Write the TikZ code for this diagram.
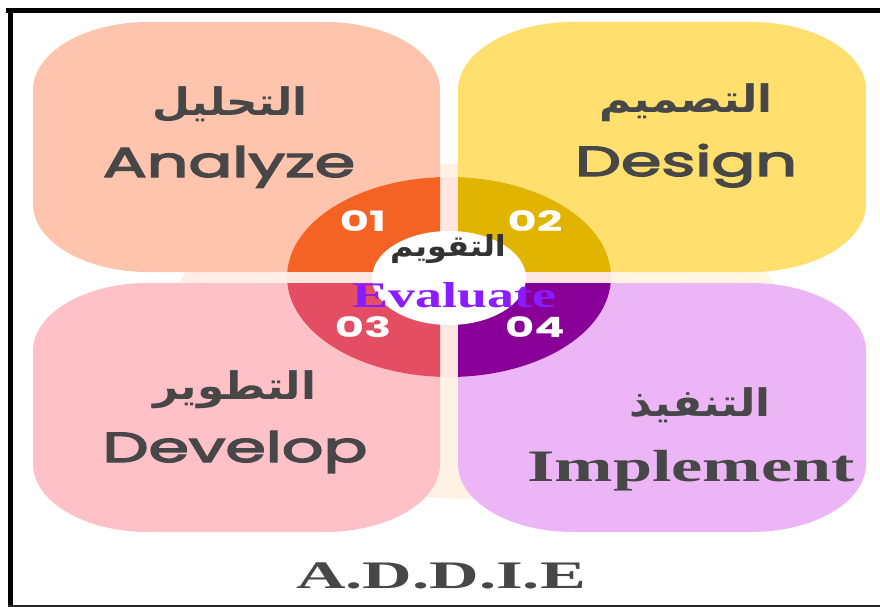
\documentclass[tikz,border=0pt]{standalone}
\usepackage{fontspec}
\usepackage{graphicx}
\TeXXeTstate=1
\newfontfamily\arabicfont[Script=Arabic]{DejaVu Sans}
\newfontfamily\popfont{Poppins}
\newfontfamily\popmed{Poppins}[FakeBold=3]
\newfontfamily\serfont{Liberation Serif}
\definecolor{boxA}{RGB}{255,196,173}
\definecolor{boxB}{RGB}{255,223,110}
\definecolor{boxC}{RGB}{255,193,200}
\definecolor{boxD}{RGB}{236,181,246}
\definecolor{ringA}{RGB}{245,99,36}
\definecolor{ringB}{RGB}{224,180,0}
\definecolor{ringC}{RGB}{227,78,98}
\definecolor{ringD}{RGB}{136,0,152}
\definecolor{evalc}{RGB}{138,28,255}
\definecolor{txt}{RGB}{71,71,71}
\definecolor{paleA}{RGB}{255,238,232}
\definecolor{paleB}{RGB}{255,247,226}
\definecolor{gapc}{RGB}{255,230,225}
\newcommand\sx[2]{\scalebox{#1}[1]{#2}}
\newcommand\ADbox[5]{% color, x1,y1,x2,y2
  \fill[#1] (#2,#3+68) arc[start angle=180,end angle=270,x radius=115,y radius=68]
    -- (#4-115,#3) arc[start angle=270,end angle=360,x radius=115,y radius=68]
    -- (#4,#5-68) arc[start angle=0,end angle=90,x radius=115,y radius=68]
    -- (#2+115,#5) arc[start angle=90,end angle=180,x radius=115,y radius=68] -- cycle;}
\tikzset{
  entxt/.style={text=txt,inner sep=0pt,anchor=base,font=\popmed\fontsize{42}{42}\selectfont},
  artxt/.style={text=txt,inner sep=0pt,font=\arabicfont\bfseries\fontsize{38}{44}\selectfont},
  numtxt/.style={text=white,inner sep=0pt,anchor=base,font=\popfont\bfseries\fontsize{28}{28}\selectfont},
  sertxt/.style={text=txt,inner sep=0pt,anchor=base,font=\serfont\bfseries\fontsize{45}{45}\selectfont}
}
\begin{document}
\begin{tikzpicture}[x=1pt,y=-1pt]
\useasboundingbox (0,0) rectangle (880,607);
\fill[white] (0,0) rectangle (880,607);
% faint background ellipse
\shade[left color=paleA,right color=paleB] (476,331) ellipse [x radius=310,y radius=168];
% boxes
\ADbox{boxA}{33}{22}{440}{272}
\ADbox{boxB}{458}{22}{866}{272}
\ADbox{boxC}{33}{283}{440}{532}
\ADbox{boxD}{458}{283}{866}{532}
% ring
\fill[gapc] (449,277) ellipse [x radius=162,y radius=100];
\begin{scope}\clip (280,170) rectangle (440,271.5);
\fill[ringA] (449,277) ellipse [x radius=162,y radius=100];\end{scope}
\begin{scope}\clip (458,170) rectangle (620,271.5);
\fill[ringB] (449,277) ellipse [x radius=162,y radius=100];\end{scope}
\begin{scope}\clip (280,283) rectangle (440,385);
\fill[ringC] (449,277) ellipse [x radius=162,y radius=100];\end{scope}
\begin{scope}\clip (458,283) rectangle (620,385);
\fill[ringD] (449,277) ellipse [x radius=162,y radius=100];\end{scope}
\fill[white] (449,278) ellipse [x radius=77,y radius=47];
% numbers
\node[numtxt] (n1) at (363,231) {\sx{1.6}{01}};
\node[numtxt] (n2) at (535,231) {\sx{1.6}{02}};
\node[numtxt] (n3) at (363,337) {\sx{1.6}{03}};
\node[numtxt] (n4) at (535,337) {\sx{1.6}{04}};
% centre
\node[artxt,text={rgb,255:red,51;green,51;blue,51},font=\arabicfont\bfseries\fontsize{29}{32}\selectfont] (evar) at (448,249) {\sx{1.1}{\beginR التقويم\endR}};
\node[sertxt,text=evalc,font=\serfont\bfseries\fontsize{36}{36}\selectfont] (even) at (454,307) {\sx{1.5}{Evaluate}};
% box labels
\node[artxt] (aar) at (230,105) {\sx{1.15}{\beginR التحليل\endR}};
\node[entxt] (aen) at (229,177) {\sx{1.55}{Analyze}};
\node[artxt] (dar) at (686,103) {\sx{1.15}{\beginR التصميم\endR}};
\node[entxt] (den) at (686,176) {\sx{1.55}{Design}};
\node[artxt] (var) at (235,390) {\sx{1.15}{\beginR التطوير\endR}};
\node[entxt] (ven) at (235,462) {\sx{1.55}{Develop}};
\node[artxt] (iar) at (700,405) {\sx{1.15}{\beginR التنفيذ\endR}};
\node[sertxt] (ien) at (691,481) {\sx{1.56}{Implement}};
% title
\node[sertxt,font=\serfont\bfseries\fontsize{39}{39}\selectfont] (title) at (441,588) {\sx{1.76}{A.D.D.I.E}};
% frame
\draw[black,line width=5pt] (6,10.5) -- (880,10.5);
\draw[black,line width=5pt] (10,8) -- (10,607);
\draw[black!85,line width=2pt] (8,605.5) -- (880,605.5);
\end{tikzpicture}
\end{document}
